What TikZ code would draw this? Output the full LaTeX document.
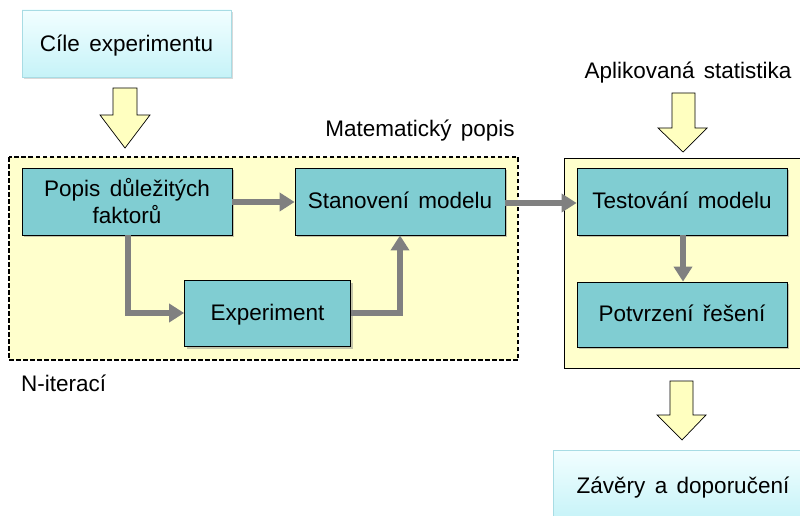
\documentclass[tikz,border=0pt]{standalone}
\usepackage{fontspec}
\setmainfont{Liberation Sans}[WordSpace={1.5,0.5,0.3}]
\usetikzlibrary{arrows.meta,shadows}
\definecolor{yel}{HTML}{FFFFCC}
\definecolor{hyel}{HTML}{FFFFC0}
\definecolor{tealbox}{HTML}{80CDD2}
\definecolor{cyantop}{HTML}{F2FEFF}
\definecolor{cyanbot}{HTML}{C6F3F8}
\definecolor{cyanedge}{HTML}{A8DCE4}
\definecolor{arrgray}{HTML}{808080}
\begin{document}
\begin{tikzpicture}[x=1pt,y=-1pt,
  font=\fontsize{22.5}{26}\selectfont,
  tealnode/.style={draw=black, line width=0.8pt, fill=tealbox, align=center,
    minimum width=210pt, minimum height=67pt, inner sep=0pt, text depth=2pt,
    drop shadow={shadow xshift=2pt, shadow yshift=-2pt, opacity=0.45}},
  cyannode/.style={draw=cyanedge, line width=0.6pt, top color=cyantop, bottom color=cyanbot,
    align=center, inner sep=0pt, text depth=0pt,
    drop shadow={shadow xshift=2pt, shadow yshift=-2pt, opacity=0.3}},
  garrow/.style={draw=arrgray, line width=5.5pt, -{Triangle[length=15pt,width=18pt]}},
  hollow/.style={draw=black, line width=0.7pt, fill=hyel},
  lbl/.style={inner sep=0pt}
]
\useasboundingbox (0,0) rectangle (800,516);

% group boxes
\draw[line width=1.3pt, dash pattern=on 4.5pt off 2.5pt, fill=yel] (9,157) rectangle (518,360);
\draw[line width=1pt, fill=yel] (564,158) rectangle (804,368);

% top-left goal
\node[cyannode, minimum width=209pt, minimum height=67pt] (cile) at (126.5,43.5) {Cíle experimentu};
\node[cyannode, minimum width=260pt, minimum height=70pt] (zavery) at (683,485) {Závěry a doporučení};

% hollow arrows
\draw[hollow] (113,88) -- (137,88) -- (137,115) -- (150,115) -- (125,148) -- (100,115) -- (113,115) -- cycle;
\draw[hollow] (672,93) -- (695,93) -- (695,128) -- (707,128) -- (683,152) -- (658,128) -- (672,128) -- cycle;
\draw[hollow] (670,381) -- (693,381) -- (693,415) -- (706,415) -- (682,440) -- (657,415) -- (670,415) -- cycle;

% labels
\node[lbl] (matpopis) at (420,131) {Matematický popis};
\node[lbl] (aplstat) at (688,73) {Aplikovaná statistika};
\node[lbl, anchor=west] (niter) at (21,383) {N-iterací};

% process boxes
\node[tealnode] (popis) at (127,201.5) {Popis důležitých\\[1pt]faktorů};
\node[tealnode] (stanov) at (400,201.5) {Stanovení modelu};
\node[tealnode, minimum width=166pt, minimum height=66pt] (exper) at (267.5,313.5) {Experiment};
\node[tealnode] (test) at (682,201.5) {Testování modelu};
\node[tealnode, minimum height=65pt] (potvr) at (682,314.5) {Potvrzení řešení};

% connectors
\draw[garrow] (popis.east |- 0,202) -- (stanov.west |- 0,202);
\draw[garrow] (popis.south -| 128,0) -- (128,313) -- (exper.west |- 0,313);
\draw[garrow] (exper.east |- 0,313) -- (400,313) -- (stanov.south -| 400,0);
\draw[garrow] (stanov.east |- 0,203) -- (test.west |- 0,203);
\draw[garrow] (test.south -| 683,0) -- (potvr.north -| 683,0);
\end{tikzpicture}
\end{document}
